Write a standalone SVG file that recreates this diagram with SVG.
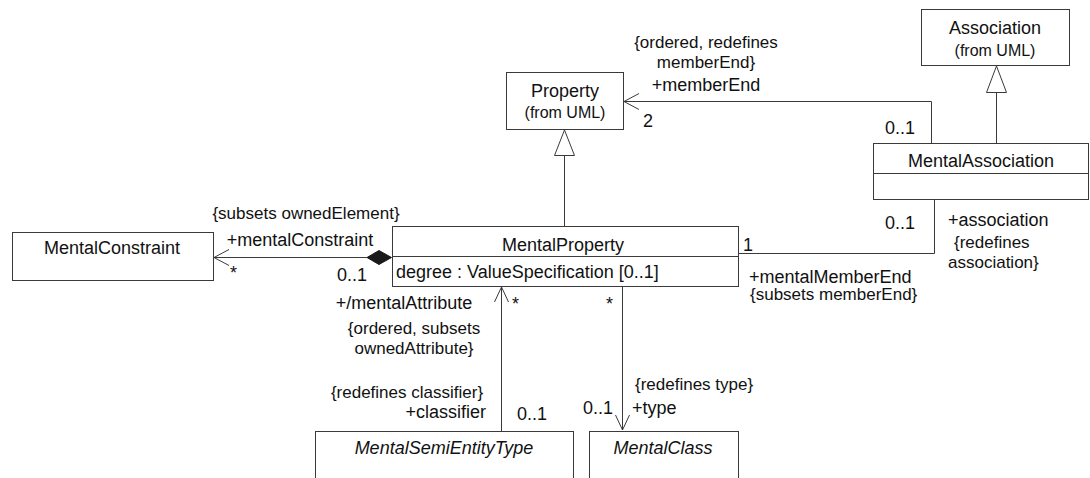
<svg xmlns="http://www.w3.org/2000/svg" width="1090" height="478" viewBox="0 0 1090 478">
  <style>
    .box { fill: #ffffff; stroke: #3a3a3a; stroke-width: 1; }
    .line { fill: none; stroke: #3a3a3a; stroke-width: 1; }
    .head { fill: none; stroke: #3a3a3a; stroke-width: 1; }
    .tri { fill: #ffffff; stroke: #3a3a3a; stroke-width: 1; }
    .dia { fill: #1a1a1a; stroke: #1a1a1a; stroke-width: 1; }
    text { font-family: "Liberation Sans", Arial, sans-serif; fill: #111111; }
    .name { font-size: 18px; text-anchor: middle; }
    .from { font-size: 16px; text-anchor: middle; }
    .attr { font-size: 18px; }
    .role { font-size: 18px; }
    .cons { font-size: 17px; }
    .mult { font-size: 18px; }
    .ital { font-style: italic; }
  </style>

  <!-- classes -->
  <g id="Property">
    <rect class="box" x="506.5" y="72.5" width="117" height="57"/>
    <text class="name" x="565" y="97">Property</text>
    <text class="from" x="565" y="118">(from UML)</text>
  </g>

  <g id="Association">
    <rect class="box" x="921.5" y="9.5" width="148" height="56"/>
    <text class="name" x="995" y="34">Association</text>
    <text class="from" x="995" y="56">(from UML)</text>
  </g>

  <g id="MentalAssociation">
    <rect class="box" x="873.5" y="143.5" width="215" height="56"/>
    <line class="line" x1="873.5" y1="173.5" x2="1088.5" y2="173.5"/>
    <text class="name" x="981" y="167">MentalAssociation</text>
  </g>

  <g id="MentalConstraint">
    <rect class="box" x="12.5" y="232.5" width="201" height="48"/>
    <text class="name" x="112" y="254">MentalConstraint</text>
  </g>

  <g id="MentalProperty">
    <rect class="box" x="392.5" y="226.5" width="346" height="60"/>
    <line class="line" x1="392.5" y1="256.5" x2="738.5" y2="256.5"/>
    <text class="name" x="563" y="251">MentalProperty</text>
    <text class="attr" x="396" y="278">degree : ValueSpecification [0..1]</text>
  </g>

  <g id="MentalSemiEntityType">
    <rect class="box" x="315.5" y="431.5" width="258" height="60"/>
    <text class="name ital" x="444" y="454">MentalSemiEntityType</text>
  </g>

  <g id="MentalClass">
    <rect class="box" x="589.5" y="431.5" width="149" height="60"/>
    <text class="name ital" x="663" y="454">MentalClass</text>
  </g>

  <!-- connectors -->
  <g id="connectors">
    <!-- MentalProperty generalizes Property -->
    <line class="line" x1="564.5" y1="155" x2="564.5" y2="226"/>
    <polygon class="tri" points="564.5,130 554.5,155.5 574.5,155.5"/>

    <!-- MentalAssociation generalizes Association -->
    <line class="line" x1="996.5" y1="92" x2="996.5" y2="143"/>
    <polygon class="tri" points="996.5,66 986.5,92.5 1006.5,92.5"/>

    <!-- memberEnd: MentalAssociation to Property -->
    <polyline class="line" points="624,101.5 931.5,101.5 931.5,143"/>
    <polyline class="head" points="639,93.5 624,101.5 639,109.5"/>
    <text class="cons" x="706" y="48" text-anchor="middle">{ordered, redefines</text>
    <text class="cons" x="706" y="68" text-anchor="middle">memberEnd}</text>
    <text class="role" x="706" y="91" text-anchor="middle">+memberEnd</text>
    <text class="mult" x="643" y="127">2</text>
    <text class="mult" x="885" y="134">0..1</text>

    <!-- mentalMemberEnd / association -->
    <polyline class="line" points="739,253.5 934.5,253.5 934.5,200"/>
    <text class="mult" x="743" y="251">1</text>
    <text class="role" x="749" y="283">+mentalMemberEnd</text>
    <text class="cons" x="750" y="300">{subsets memberEnd}</text>
    <text class="mult" x="885" y="229">0..1</text>
    <text class="role" x="948" y="226">+association</text>
    <text class="cons" x="954" y="248">{redefines</text>
    <text class="cons" x="948" y="268">association}</text>

    <!-- mentalConstraint composition -->
    <line class="line" x1="214" y1="257.5" x2="367" y2="257.5"/>
    <polygon class="dia" points="391.5,257.5 379,250.5 367,257.5 379,264.5"/>
    <polyline class="head" points="229,249.5 214,257.5 229,265.5"/>
    <text class="cons" x="306" y="219" text-anchor="middle">{subsets ownedElement}</text>
    <text class="role" x="300" y="246" text-anchor="middle">+mentalConstraint</text>
    <text class="mult" x="230" y="279">*</text>
    <text class="mult" x="337" y="281">0..1</text>

    <!-- mentalAttribute / classifier -->
    <line class="line" x1="501.5" y1="287" x2="501.5" y2="431"/>
    <polyline class="head" points="494.5,302 501.5,287 508.5,302"/>
    <text class="mult" x="512" y="310">*</text>
    <text class="role" x="404" y="309" text-anchor="middle">+/mentalAttribute</text>
    <text class="cons" x="414" y="334" text-anchor="middle">{ordered, subsets</text>
    <text class="cons" x="414" y="354" text-anchor="middle">ownedAttribute}</text>
    <text class="cons" x="407" y="398" text-anchor="middle">{redefines classifier}</text>
    <text class="role" x="486" y="418" text-anchor="end">+classifier</text>
    <text class="mult" x="517" y="420">0..1</text>

    <!-- type -->
    <line class="line" x1="622.5" y1="287" x2="622.5" y2="430"/>
    <polyline class="head" points="615.5,415 622.5,430 629.5,415"/>
    <text class="mult" x="606" y="310">*</text>
    <text class="cons" x="635" y="390">{redefines type}</text>
    <text class="role" x="632" y="414">+type</text>
    <text class="mult" x="583" y="414">0..1</text>
  </g>
</svg>
